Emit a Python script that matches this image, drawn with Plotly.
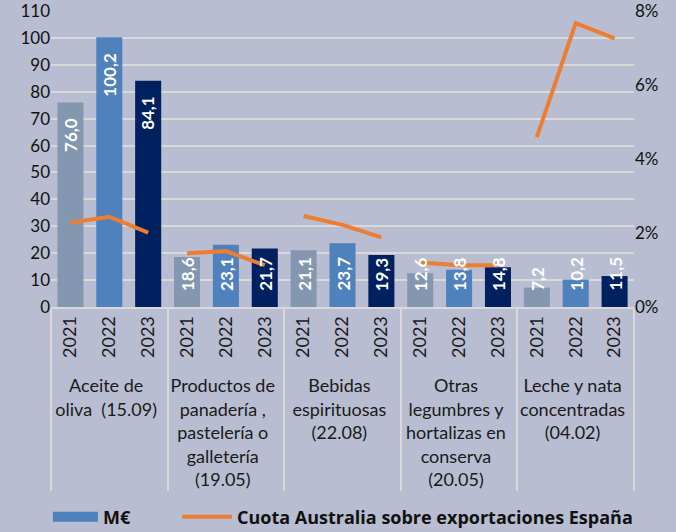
import plotly.graph_objects as go

groups = [
    "Aceite de<br>oliva  (15.09)",
    "Productos de<br>panadería ,<br>pastelería o<br>galletería<br>(19.05)",
    "Bebidas<br>espirituosas<br>(22.08)",
    "Otras<br>legumbres y<br>hortalizas en<br>conserva<br>(20.05)",
    "Leche y nata<br>concentradas<br>(04.02)",
]
years = ["2021", "2022", "2023"]

meur_2021 = [76.0, 18.6, 21.1, 12.6, 7.2]
meur_2022 = [100.2, 23.1, 23.7, 13.8, 10.2]
meur_2023 = [84.1, 21.7, 19.3, 14.8, 11.5]

cuota_2021 = [2.28, 1.45, 2.46, 1.20, 4.59]
cuota_2022 = [2.44, 1.51, 2.22, 1.13, 7.67]
cuota_2023 = [2.01, 1.13, 1.88, 1.13, 7.26]

year_colors = {"2021": "#8497B0", "2022": "#4F81BD", "2023": "#002060"}
orange = "#ED7D31"
bg = "#B8BDD2"
grid = "#D9D9D9"
FONT = "Lato"
txtcol = "#1a1a1a"

outer, inner, vals = [], [], []
for i, g in enumerate(groups):
    for y, arr in zip(years, [meur_2021, meur_2022, meur_2023]):
        outer.append(g)
        inner.append(y)
        vals.append(arr[i])

fig = go.Figure()
fig.add_trace(go.Bar(
    x=[outer, inner], y=vals, width=0.67,
    marker=dict(color=[year_colors[y] for y in inner], line=dict(width=0)),
    showlegend=False, hoverinfo="skip",
))
# legend entry for the bars (wide rectangle swatch)
fig.add_trace(go.Scatter(
    x=[[groups[0]], [years[0]]], y=[None], name="M€", mode="lines",
    line=dict(color="#4F81BD", width=11), showlegend=True, legend="legend",
))
for i, g in enumerate(groups):
    fig.add_trace(go.Scatter(
        x=[[g] * 3, years], y=[cuota_2021[i], cuota_2022[i], cuota_2023[i]],
        yaxis="y2", mode="lines", line=dict(color=orange, width=4),
        name="Cuota Australia sobre exportaciones España",
        legendgroup="cuota", showlegend=(i == 0), legend="legend2",
    ))

annotations = []
for k, v in enumerate(vals):
    txt = f"{v:.1f}".replace(".", ",")
    if k < 3:
        annotations.append(dict(x=k, y=v, xref="x", yref="y", text=txt, textangle=-90,
                                showarrow=False, yanchor="top", yshift=-13,
                                font=dict(family=FONT, size=17, color="white", weight="bold")))
    else:
        annotations.append(dict(x=k, y=0, xref="x", yref="y", text=txt, textangle=-90,
                                showarrow=False, yanchor="bottom", yshift=14,
                                font=dict(family=FONT, size=17, color="white", weight="bold")))

legfont = dict(family="Open Sans", size=18, color="#111111", weight="bold")

fig.update_layout(
    width=676, height=532,
    margin=dict(l=51, r=42, t=11, b=225, autoexpand=False),
    paper_bgcolor=bg, plot_bgcolor=bg,
    barmode="overlay",
    font=dict(family=FONT, size=18, color=txtcol),
    annotations=annotations,
    legend=dict(orientation="h", x=-0.0053, xanchor="left", y=-0.7095, yanchor="middle",
                font=legfont, bgcolor="rgba(0,0,0,0)", itemwidth=45),
    legend2=dict(orientation="h", x=0.2161, xanchor="left", y=-0.7095, yanchor="middle",
                 font=legfont, bgcolor="rgba(0,0,0,0)", itemwidth=50),
    xaxis=dict(range=[-0.5, 14.5], tickangle=-90, tickfont=dict(size=18, color=txtcol),
               showdividers=True, dividercolor=grid, dividerwidth=2,
               showline=True, linecolor=grid, linewidth=2, showgrid=False, ticks="",
               automargin=False),
    yaxis=dict(range=[0, 110], dtick=10, gridcolor=grid, gridwidth=2, zeroline=False,
               tickfont=dict(size=17, color="#111111"), showline=False,
               automargin=False, ticklabeloverflow="allow"),
    yaxis2=dict(range=[0, 8], dtick=2, ticksuffix="%", overlaying="y", side="right",
                showgrid=False, zeroline=False, tickfont=dict(size=17, color="#111111"),
                automargin=False, ticklabeloverflow="allow"),
)

fig.write_html(
    "out.html",
    config={"displayModeBar": False},
    post_script="document.body.style.margin='0px';document.body.style.background='" + bg + "';",
)
